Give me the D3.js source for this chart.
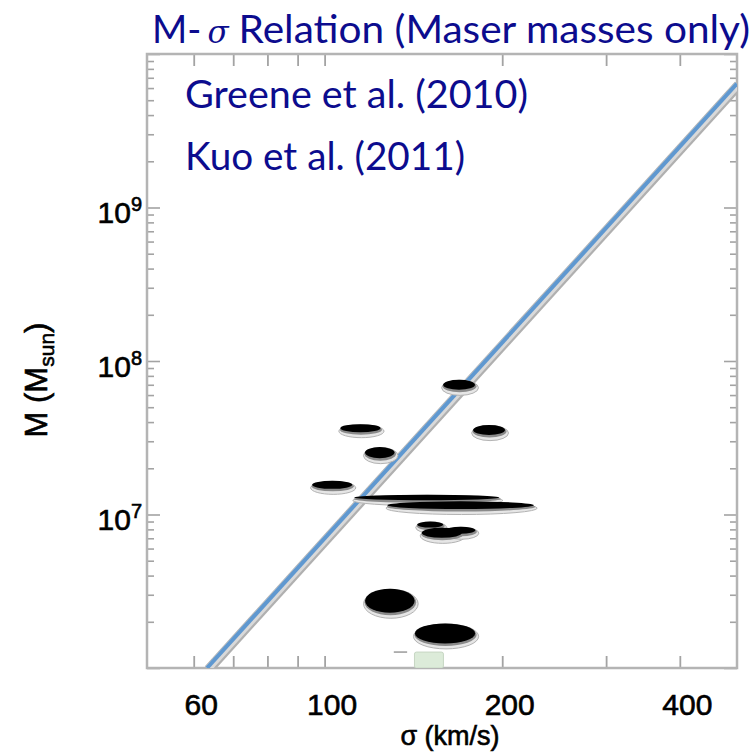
<!DOCTYPE html>
<html>
<head>
<meta charset="utf-8">
<script src="https://cdn.jsdelivr.net/npm/d3@7"></script>
<style>
  html, body { margin: 0; padding: 0; background: #fff; }
  svg { display: block; }
</style>
</head>
<body>
<div id="chart"></div>
<script>
// ---- data ----
const xTickValues = [60, 70, 80, 90, 100, 200, 300, 400];
const xTickLabels = [60, 100, 200, 400];
const yLabelExponents = [7, 8, 9];

// galaxies (maser masses): sigma (km/s), mass (Msun), half-sizes in dex
const galaxySigma = [169, 115, 190, 124, 103, 149, 170, 151, 158, 170, 129, 160];
const galaxyMass  = [7.0e7, 3.65e7, 3.55e7, 2.53e7, 1.56e7, 1.29e7, 1.15e7, 8.6e6, 7.6e6, 7.9e6, 2.74e6, 1.68e6];
const galaxySigmaDex = [0.027, 0.034, 0.027, 0.025, 0.034, 0.123, 0.124, 0.022, 0.034, 0.025, 0.042, 0.051];
const galaxyMassDex  = [0.033, 0.026, 0.033, 0.036, 0.026, 0.018, 0.025, 0.020, 0.033, 0.023, 0.078, 0.065];

// M-sigma relation line endpoints
const relationSigma = [63.2, 500];
const relationMass  = [1.0e6, 6.41e9];

// small green box and dash near the bottom
const boxSigma = [142, 159];
const boxMass  = [1.0e6, 1.27e6];
const dashSigma = [131, 138];
const dashMass  = 1.27e6;

// ---- layout ----
const W = 754, H = 756;
const L = 147, R = 737, T = 54, B = 668;
const labelFont = "'Liberation Sans', Arimo, Arial, Helvetica, sans-serif";

const svg = d3.select("#chart").append("svg")
  .attr("width", W).attr("height", H)
  .style("font-family", labelFont);

svg.append("rect").attr("width", W).attr("height", H).attr("fill", "#fff");

const x = d3.scaleLog().domain([50, 500]).range([L, R]);
const y = d3.scaleLog().domain([1e6, 1e10]).range([B, T]);

const defs = svg.append("defs");
defs.append("clipPath").attr("id", "plotclip")
  .append("rect").attr("x", L).attr("y", T).attr("width", R - L).attr("height", B - T);

const tickColor = "#a3a3a3";
const isMajor = d => Math.abs(Math.log10(d) - Math.round(Math.log10(d))) < 1e-9;

function styleLabel(sel) {
  sel.attr("font-family", labelFont).attr("fill", "#000")
    .attr("stroke", "#000").attr("stroke-width", 0.6);
}

// bottom axis
const gx = svg.append("g").attr("transform", `translate(0,${B})`)
  .call(d3.axisBottom(x).tickValues(xTickValues).tickSize(-12).tickPadding(26)
    .tickFormat(d => xTickLabels.includes(d) ? String(d) : ""));
gx.attr("font-family", labelFont);
gx.select(".domain").remove();
gx.selectAll(".tick line").attr("stroke", tickColor).attr("stroke-width", 1.8);
gx.selectAll(".tick text").attr("font-size", 30).attr("dx", 7).call(styleLabel);

// top axis
const gxt = svg.append("g").attr("transform", `translate(0,${T})`)
  .call(d3.axisTop(x).tickValues(xTickValues).tickSize(-12).tickFormat(""));
gxt.select(".domain").remove();
gxt.selectAll(".tick line").attr("stroke", tickColor).attr("stroke-width", 1.8);

// left axis
const yTicks = y.ticks();
const gy = svg.append("g").attr("transform", `translate(${L},0)`)
  .call(d3.axisLeft(y).tickValues(yTicks).tickSize(-6).tickPadding(5)
    .tickFormat(d => (isMajor(d) && yLabelExponents.includes(Math.round(Math.log10(d)))) ? "10" : ""));
gy.attr("font-family", labelFont);
gy.select(".domain").remove();
gy.selectAll(".tick line").attr("stroke", tickColor).attr("stroke-width", 1.6)
  .attr("x2", d => isMajor(d) ? 13 : 7);
gy.selectAll(".tick text")
  .attr("font-size", 30).attr("dy", 15).call(styleLabel)
  .each(function(d) {
    const e = Math.round(Math.log10(d));
    if (isMajor(d) && yLabelExponents.includes(e)) {
      d3.select(this).append("tspan").attr("dy", -12).attr("font-size", 20).text(e);
    }
  });

// right axis
const gyr = svg.append("g").attr("transform", `translate(${R},0)`)
  .call(d3.axisRight(y).tickValues(yTicks).tickSize(-6).tickFormat(""));
gyr.select(".domain").remove();
gyr.selectAll(".tick line").attr("stroke", tickColor).attr("stroke-width", 1.6)
  .attr("x2", d => isMajor(d) ? -13 : -7);

// frame
svg.append("rect").attr("x", L).attr("y", T).attr("width", R - L).attr("height", B - T)
  .attr("fill", "none").attr("stroke", "#b4b4b4").attr("stroke-width", 2.5);

const plot = svg.append("g").attr("clip-path", "url(#plotclip)");

// relation line with soft shadow
const linePts = relationSigma.map((s, i) => [x(s), y(relationMass[i])]);
const lineGen = d3.line();
plot.append("path").attr("d", lineGen(linePts)).attr("transform", "translate(1.5,1.5)")
  .attr("stroke", "#b0b0b0").attr("stroke-width", 10).attr("fill", "none");
plot.append("path").attr("d", lineGen(linePts)).attr("transform", "translate(1,1)")
  .attr("stroke", "#d9d9d9").attr("stroke-width", 7).attr("fill", "none");
plot.append("path").attr("d", lineGen(linePts))
  .attr("stroke", "#5f98d0").attr("stroke-width", 4).attr("fill", "none");

// green box and dash
plot.append("rect")
  .attr("x", x(boxSigma[0])).attr("width", x(boxSigma[1]) - x(boxSigma[0]))
  .attr("y", y(boxMass[1])).attr("height", y(boxMass[0]) - y(boxMass[1]))
  .attr("rx", 2)
  .attr("fill", "#dcebd9").attr("stroke", "#c6d6c3").attr("stroke-width", 1);
plot.append("line")
  .attr("x1", x(dashSigma[0])).attr("x2", x(dashSigma[1]))
  .attr("y1", y(dashMass)).attr("y2", y(dashMass))
  .attr("stroke", "#9a9a9a").attr("stroke-width", 1.5);

// galaxies
const gal = galaxySigma.map((s, i) => {
  const cx = x(s), cy = y(galaxyMass[i]);
  return {
    cx, cy,
    rx: x(s * Math.pow(10, galaxySigmaDex[i])) - cx,
    ry: cy - y(galaxyMass[i] * Math.pow(10, galaxyMassDex[i]))
  };
});
const gg = plot.append("g");
gg.selectAll(".sh1").data(gal).join("ellipse")
  .attr("cx", d => d.cx + 1).attr("cy", d => d.cy + 3)
  .attr("rx", d => d.rx + 2.5).attr("ry", d => d.ry + 2.5)
  .attr("fill", "#e6e6e6").attr("stroke", "#b3b3b3").attr("stroke-width", 1);
gg.selectAll(".sh2").data(gal).join("ellipse")
  .attr("cx", d => d.cx + 0.5).attr("cy", d => d.cy + 1.5)
  .attr("rx", d => d.rx + 1).attr("ry", d => d.ry + 1)
  .attr("fill", "#8a8a8a");
gg.selectAll(".pt").data(gal).join("ellipse")
  .attr("cx", d => d.cx).attr("cy", d => d.cy)
  .attr("rx", d => d.rx).attr("ry", d => d.ry)
  .attr("fill", "#000");

// axis titles
const xt = svg.append("text").attr("x", 450).attr("y", 745).attr("text-anchor", "middle")
  .attr("font-size", 27).text("σ (km/s)");
styleLabel(xt);

const yt = svg.append("text").attr("transform", "translate(47,380) rotate(-90)")
  .attr("text-anchor", "middle").attr("font-size", 31);
styleLabel(yt);
yt.append("tspan").text("M (M");
yt.append("tspan").attr("font-size", 21).attr("dy", 7).text("sun");
yt.append("tspan").attr("dy", -7).text(")");

// title and annotations
const blue = "#0c0c8e";
const tf = "Lato, 'Open Sans', sans-serif";
const tM = svg.append("text").attr("x", 152).attr("y", 43).attr("font-family", tf)
  .attr("font-size", 38).attr("fill", blue).text("M-");
const mEnd = 152 + tM.node().getComputedTextLength();
const tS = svg.append("text").attr("x", mEnd + 6).attr("y", 43).attr("font-family", "'DejaVu Serif', serif")
  .attr("font-style", "italic").attr("font-size", 31).attr("fill", blue).text("σ");
const sEnd = mEnd + 6 + tS.node().getComputedTextLength();
svg.append("text").attr("x", sEnd + 10).attr("y", 43).attr("font-family", tf)
  .attr("font-size", 38).attr("fill", blue)
  .attr("textLength", 750 - (sEnd + 10)).attr("lengthAdjust", "spacingAndGlyphs")
  .text("Relation (Maser masses only)");

svg.append("text").attr("x", 185).attr("y", 108).attr("font-family", tf)
  .attr("font-size", 38).attr("fill", blue)
  .attr("textLength", 343).attr("lengthAdjust", "spacingAndGlyphs")
  .text("Greene et al. (2010)");
svg.append("text").attr("x", 185).attr("y", 170).attr("font-family", tf)
  .attr("font-size", 38).attr("fill", blue)
  .attr("textLength", 280).attr("lengthAdjust", "spacingAndGlyphs")
  .text("Kuo et al. (2011)");
</script>
</body>
</html>
